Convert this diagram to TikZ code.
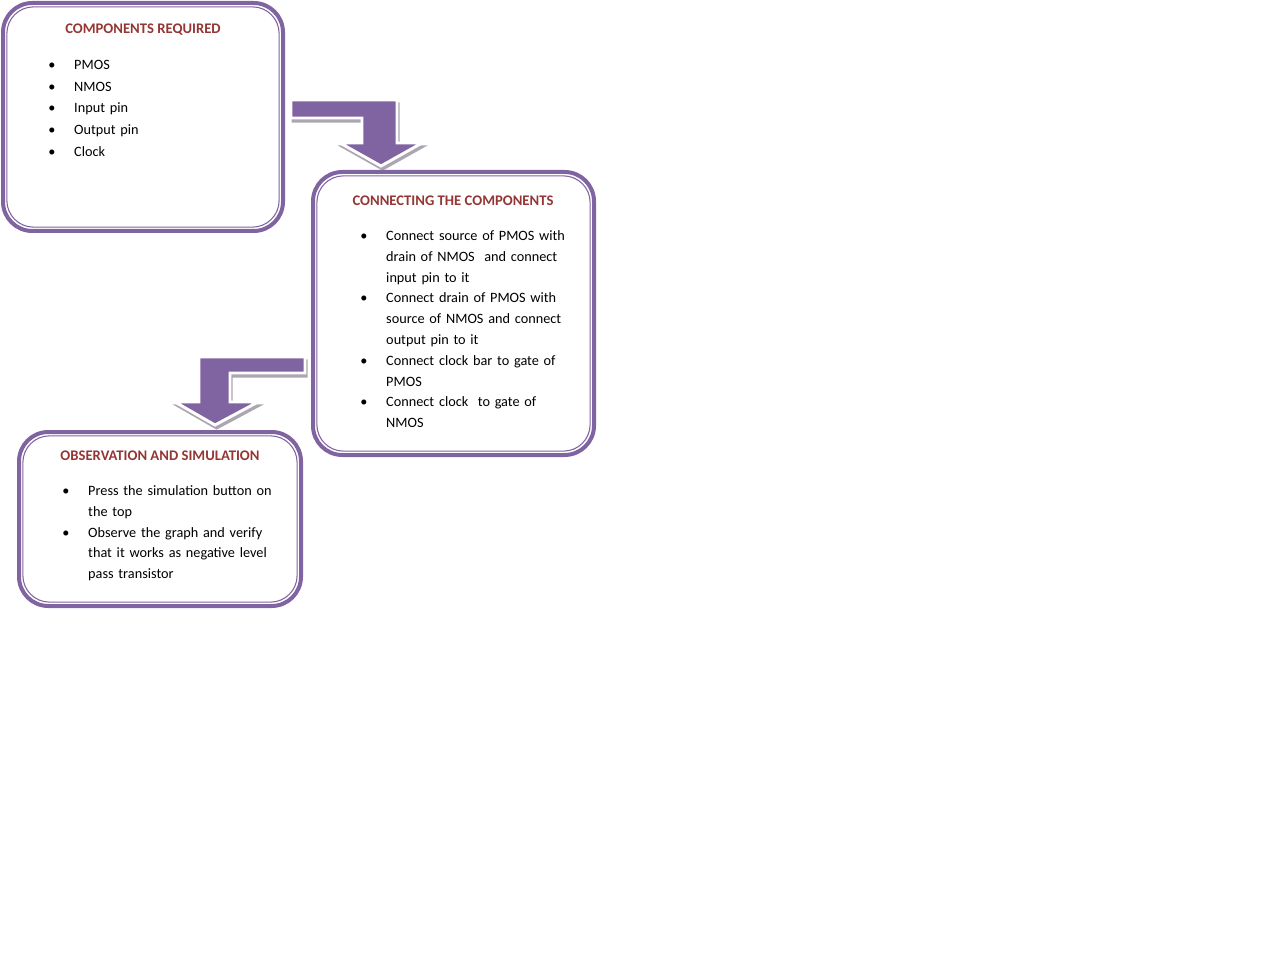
\documentclass[tikz,border=0pt]{standalone}
\usepackage{fontspec}
\setmainfont{Carlito}
\usepackage{enumitem}
\usetikzlibrary{positioning}
\definecolor{boxpurple}{HTML}{8064A2}
\definecolor{titlered}{HTML}{943634}
\definecolor{shade}{HTML}{ACA6B2}
\setlist[itemize]{label=\textbullet, leftmargin=20pt, labelsep=14pt,
  itemsep=0pt, parsep=0pt, topsep=0pt, partopsep=0pt}
\tikzset{
  % A rounded step box: thick outer line, thin inner line drawn apart
  stepbox/.style 2 args={
    draw=boxpurple, fill=white, line width=3pt, rounded corners=22pt,
    inner sep=0pt, outer sep=0pt, minimum width=#1, minimum height=#2},
  innerline/.style={draw=boxpurple, line width=0.8pt, rounded corners=20pt},
  % Heading of a step
  steptitle/.style={font=\bfseries\fontsize{11pt}{13pt}\selectfont,
    text=titlered, inner sep=0pt},
  % Bullet list of a step
  steplist/.style={font=\fontsize{10.7pt}{15.6pt}\selectfont, align=left,
    inner sep=0pt, text width=#1, anchor=base west},
  % Bent block arrows
  bendarrow/.style={fill=boxpurple, draw=white, line width=2.2pt, line join=miter},
  bendshadow/.style={fill=shade, draw=shade, line width=1.6pt,
    transform canvas={shift={(1.2pt,-2.6pt)}}},
}
\begin{document}
\begin{tikzpicture}[x=0.75pt, y=-0.75pt]
\useasboundingbox (0,0) rectangle (1274,973);

% arrow tips
\coordinate (tipone) at (381,166);
\coordinate (tiptwo) at (215,425);

\foreach \t in {bendshadow, bendarrow}{
  \path[\t] (tipone) -- ++(41,-23) -- ++(-25,0) -- ++(0,-43) -- ++(-106,0)
    -- ++(0,18) -- ++(71,0) -- ++(0,25) -- ++(-22,0) -- cycle;
  \path[\t] (tiptwo) -- ++(43,-23) -- ++(-28,0) -- ++(0,-29) -- ++(75,0)
    -- ++(0,-16) -- ++(-106,0) -- ++(0,45) -- ++(-24,0) -- cycle;
}

\node[stepbox={210pt}{171pt}] (comp) at (143,117) {};
\node[stepbox={210.75pt}{212.25pt}] (conn) at (453.5,313.5) {};
\node[stepbox={211.5pt}{130.5pt}] (obs) at (160,519) {};

\foreach \b in {comp,conn,obs}
  \draw[innerline] ([shift={(2.9pt,-2.9pt)}]\b.north west)
    rectangle ([shift={(-2.9pt,2.9pt)}]\b.south east);

\node[steptitle] (comptitle) at (143,30) {COMPONENTS REQUIRED};
\node[steptitle] (conntitle) at (453,201) {CONNECTING THE COMPONENTS};
\node[steptitle] (obstitle) at (160,456) {OBSERVATION AND SIMULATION};

\node[steplist=150pt] (complist) at (47.3,48.7) {
  \begin{itemize}[itemsep=0.7pt]
    \item PMOS
    \item NMOS
    \item Input pin
    \item Output pin
    \item Clock
  \end{itemize}};

\node[steplist=190pt] (connlist) at (359.3,219.7) {
  \begin{itemize}
    \item Connect source of PMOS with\\ drain of NMOS~ and connect\\ input pin to it
    \item Connect drain of PMOS with\\ source of NMOS and connect\\ output pin to it
    \item Connect clock bar to gate of\\ PMOS
    \item Connect clock~ to gate of\\ NMOS
  \end{itemize}};

\node[steplist=190pt] (obslist) at (61.3,474.7) {
  \begin{itemize}
    \item Press the simulation button on\\ the top
    \item Observe the graph and verify\\ that it works as negative level\\ pass transistor
  \end{itemize}};

\end{tikzpicture}
\end{document}
